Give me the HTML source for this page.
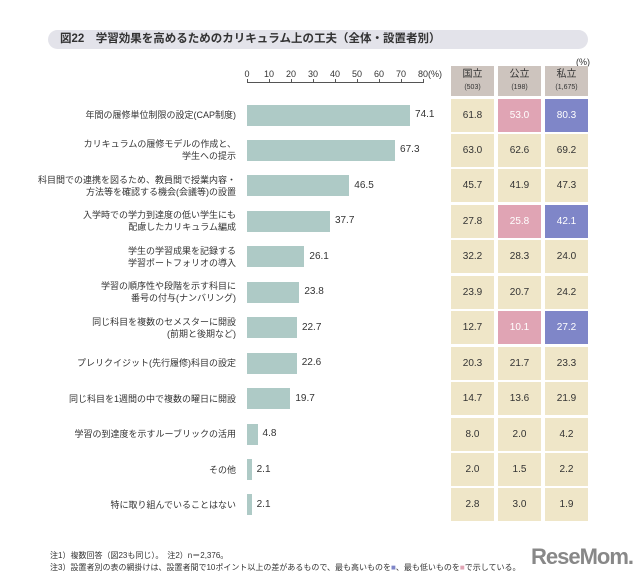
<!DOCTYPE html><html><head><meta charset="utf-8"><style>
body{margin:0;width:640px;height:586px;background:#fff;font-family:"Liberation Sans","Noto Sans CJK JP",sans-serif;position:relative;overflow:hidden;color:#333}
.a{position:absolute}
.t{left:48px;top:30px;width:540px;height:19px;background:#e3e3ea;border-radius:10px;font-size:11.5px;font-weight:bold;line-height:19px;padding-left:12px;box-sizing:border-box;color:#333}
.lab{right:404px;font-size:9px;text-align:right;line-height:12px;color:#333}
.bar{left:247px;height:21px;background:#aecac6}
.v{font-size:10px}
.c{width:43px;height:33px;background:#efe6c8;font-size:10px;text-align:center;line-height:33px}
.h{width:43px;height:30px;background:#cdc4be;text-align:center;font-size:10px;line-height:12px;padding-top:3px;box-sizing:border-box}
.h small{font-size:7px}
.tk{font-size:9px;width:20px;text-align:center;top:69px}
.note{font-size:8px;left:50px;color:#333}
</style></head><body>
<div class="a t">図22　学習効果を高めるためのカリキュラム上の工夫（全体・設置者別）</div>
<div class="a" style="left:247px;top:82px;width:176px;height:1px;background:#555"></div>
<div id="ax"></div>
<div class="a" style="left:428px;top:69px;font-size:9px">(%)</div>
<div class="a" style="left:576px;top:57px;font-size:9px">(%)</div>
<div class="a h" style="left:451px;top:66px">国立<br><small>(503)</small></div>
<div class="a h" style="left:498px;top:66px">公立<br><small>(198)</small></div>
<div class="a h" style="left:545px;top:66px">私立<br><small>(1,675)</small></div>
<div id="rows"></div>
<div class="a note" style="top:550px">注1）複数回答（図23も同じ）。　注2）n＝2,376。</div>
<div class="a note" style="top:562px">注3）設置者別の表の網掛けは、設置者間で10ポイント以上の差があるもので、最も高いものを<span style="color:#7f86c8">■</span>、最も低いものを<span style="color:#e0a4b4">■</span>で示している。</div>
<div class="a" style="left:531px;top:544px;font-size:22px;font-weight:bold;color:#888;letter-spacing:-1px">ReseMom.</div>
<script>
let ax='';for(let i=0;i<=8;i++){let x=247+i*22;ax+=`<div class="a tk" style="left:${x-10}px">${i*10}</div><div class="a" style="left:${x}px;top:79px;width:1px;height:4px;background:#555"></div>`}
document.getElementById('ax').innerHTML=ax;
const d=[["年間の履修単位制限の設定(CAP制度)",74.1,["61.8","53.0p","80.3b"]],
["カリキュラムの履修モデルの作成と、<br>学生への提示",67.3,["63.0","62.6","69.2"]],
["科目間での連携を図るため、教員間で授業内容・<br>方法等を確認する機会(会議等)の設置",46.5,["45.7","41.9","47.3"]],
["入学時での学力到達度の低い学生にも<br>配慮したカリキュラム編成",37.7,["27.8","25.8p","42.1b"]],
["学生の学習成果を記録する<br>学習ポートフォリオの導入",26.1,["32.2","28.3","24.0"]],
["学習の順序性や段階を示す科目に<br>番号の付与(ナンバリング)",23.8,["23.9","20.7","24.2"]],
["同じ科目を複数のセメスターに開設<br>(前期と後期など)",22.7,["12.7","10.1p","27.2b"]],
["プレリクイジット(先行履修)科目の設定",22.6,["20.3","21.7","23.3"]],
["同じ科目を1週間の中で複数の曜日に開設",19.7,["14.7","13.6","21.9"]],
["学習の到達度を示すルーブリックの活用",4.8,["8.0","2.0","4.2"]],
["その他",2.1,["2.0","1.5","2.2"]],
["特に取り組んでいることはない",2.1,["2.8","3.0","1.9"]]];
let h='';d.forEach((r,i)=>{let y=115+i*35.45;let n=r[0].includes('<br>')?2:1;
h+=`<div class="a lab" style="top:${y-n*6}px">${r[0]}</div>`;
let w=r[1]*2.2;h+=`<div class="a bar" style="top:${y-10.5}px;width:${w}px"></div><div class="a v" style="left:${247+w+5}px;top:${y-6}px">${r[1].toFixed(1)}</div>`;
r[2].forEach((c,j)=>{let bg='#efe6c8',col='#333';if(c.endsWith('p')){bg='#e0a4b4';col='#fff';c=c.slice(0,-1)}else if(c.endsWith('b')){bg='#7f86c8';col='#fff';c=c.slice(0,-1)}
h+=`<div class="a c" style="left:${451+j*47}px;top:${y-16.5}px;background:${bg};color:${col}">${c}</div>`})});
document.getElementById('rows').innerHTML=h;
</script></body></html>
